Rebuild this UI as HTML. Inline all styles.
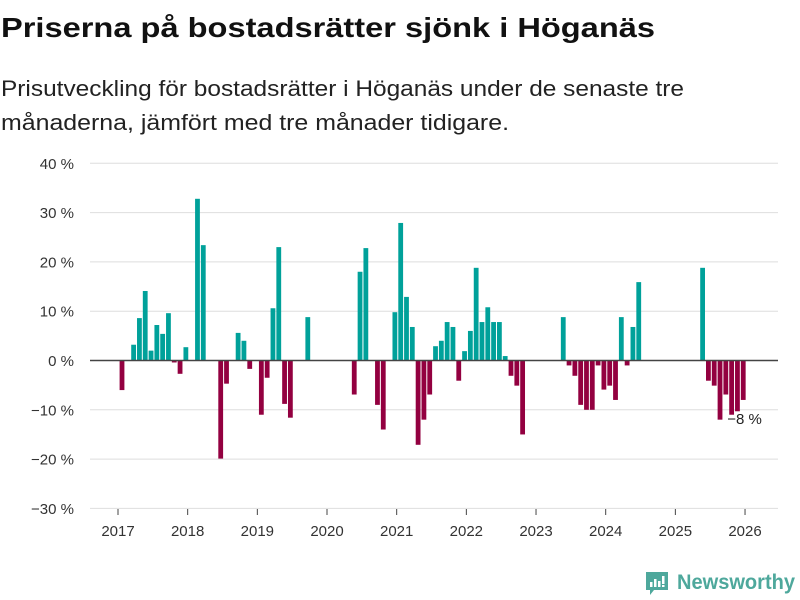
<!DOCTYPE html>
<html><head><meta charset="utf-8"><style>
body{margin:0;background:#fff;}
svg{display:block;font-family:"Liberation Sans",sans-serif;}
</style></head><body>
<svg id="chart" width="800" height="600" xmlns="http://www.w3.org/2000/svg">
<text x="1" y="37" font-size="28" font-weight="bold" fill="#111" textLength="654" lengthAdjust="spacingAndGlyphs">Priserna på bostadsrätter sjönk i Höganäs</text>
<text x="1" y="96" font-size="22" fill="#222" textLength="683" lengthAdjust="spacingAndGlyphs">Prisutveckling för bostadsrätter i Höganäs under de senaste tre</text>
<text x="1" y="130" font-size="22" fill="#222" textLength="508" lengthAdjust="spacingAndGlyphs">månaderna, jämfört med tre månader tidigare.</text>
<g id="grid"></g><g id="bars"></g><g id="axes"></g>
<g>
<path d="M646 572 h22 v18 h-14 l-4 5 v-5 h-4 z" fill="#4ea89c"/>
<rect x="650" y="582" width="2.5" height="5" fill="#fff"/><rect x="654" y="579" width="2.5" height="8" fill="#fff"/><rect x="658" y="581" width="2.5" height="6" fill="#fff"/><rect x="662" y="576" width="2.5" height="8" fill="#fff"/><rect x="662" y="585" width="2.5" height="2" fill="#fff"/>
<text x="677" y="589" font-size="21" font-weight="bold" fill="#4ea89c" textLength="118" lengthAdjust="spacingAndGlyphs">Newsworthy</text>
</g>
</svg>
<script>
const values = [-6,null,3.2,8.6,14.1,2,7.2,5.4,9.6,-0.4,-2.7,2.7,null,32.8,23.4,null,null,-19.9,-4.7,null,5.6,4.0,-1.7,null,-11,-3.5,10.6,23.0,-8.8,-11.6,null,null,8.8,null,null,null,null,null,null,null,-6.9,18.0,22.8,null,-9.0,-14.0,null,9.8,27.9,12.9,6.8,-17.1,-12.0,-6.9,2.9,4.0,7.8,6.8,-4.1,1.9,6.0,18.8,7.8,10.8,7.8,7.8,0.9,-3.1,-5.1,-15.0,null,null,null,null,null,null,8.8,-1.0,-3.1,-9.0,-10,-10,-1.0,-5.9,-5.1,-8.0,8.8,-1.0,6.8,15.9,null,null,null,null,null,null,null,null,null,null,18.8,-4.1,-5.1,-12.0,-6.9,-11.0,-10.3,-8.0];
const yTicks = [40,30,20,10,0,-10,-20,-30];
const yTickLabels = ["40 %","30 %","20 %","10 %","0 %","−10 %","−20 %","−30 %"];
const xYears = [2017,2018,2019,2020,2021,2022,2023,2024,2025,2026];
const endLabel = "−8 %";
const NS="http://www.w3.org/2000/svg";
const y0=360.5, pxPer=4.93;
function yScale(v){return y0 - v*pxPer;}
function xMonth(i){return 122 + i*5.806;}
function xYear(yr){return 118 + (yr-2017)*69.67;}
function mk(tag,attrs,parent){const e=document.createElementNS(NS,tag);for(const k in attrs)e.setAttribute(k,attrs[k]);parent.appendChild(e);return e;}
const grid=document.getElementById('grid'),bars=document.getElementById('bars'),axes=document.getElementById('axes');
yTicks.forEach((t,i)=>{
  if(t!==0){const l=mk('line',{x1:90,x2:778,y1:yScale(t),y2:yScale(t),stroke:'#dedede','stroke-width':1},grid);
  
  }
  const tx=mk('text',{x:74,y:yScale(t)+5.5,'text-anchor':'end','font-size':15,fill:'#333'},axes);
  tx.textContent=yTickLabels[i];
  
  
});
values.forEach((v,i)=>{
  if(v===null)return;
  const top=v>=0?yScale(v):y0, h=Math.abs(v)*pxPer;
  const r=mk('rect',{x:xMonth(i)-2.4,y:top,width:4.8,height:h,fill:v>=0?'#00a19a':'#930040'},bars);
  
  
});
const zl=mk('line',{x1:90,x2:778,y1:y0,y2:y0,stroke:'#444','stroke-width':1.6},axes);


xYears.forEach(yr=>{
  const tk=mk('line',{x1:xYear(yr),x2:xYear(yr),y1:509,y2:515,stroke:'#444','stroke-width':1},axes);
  
  
  const tx=mk('text',{x:xYear(yr),y:536,'text-anchor':'middle','font-size':15,fill:'#333'},axes);
  tx.textContent=yr;
  
  
});
const last=values.length-1;
const el=mk('text',{x:xMonth(last)-16,y:yScale(values[last])+24,'font-size':15,fill:'#222',stroke:'#fff','stroke-width':3,'paint-order':'stroke'},axes);
el.textContent=endLabel;


</script>
</body></html>
